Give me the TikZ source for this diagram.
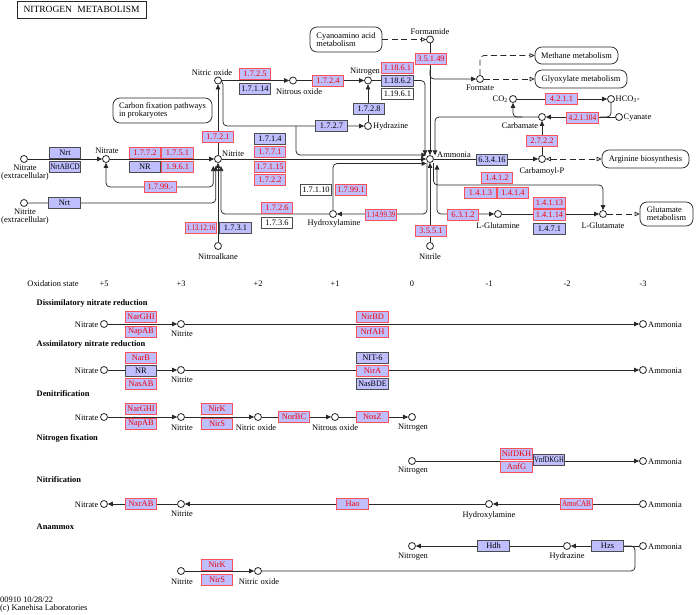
\documentclass[tikz,border=0pt]{standalone}
\usepackage{fontspec}
\setmainfont{Liberation Serif}
\usetikzlibrary{arrows.meta,calc,backgrounds}
\definecolor{kblue}{RGB}{191,191,255}
\definecolor{kred}{RGB}{240,0,0}
\definecolor{kbord}{RGB}{250,80,90}
\definecolor{kline}{RGB}{40,40,40}
\newcommand\kgf{\fontsize{8.4}{8}\selectfont}
\newcommand\sqz[2][0.85]{\scalebox{#1}[1]{#2}}
\begin{document}
\begin{tikzpicture}[x=1pt,y=-1pt,
  ln/.style={draw=kline, line width=0.75pt},
  arr/.style={ln, -{Triangle[length=5pt,width=4.6pt]}},
  barr/.style={ln, {Triangle[length=5pt,width=4.6pt]}-{Triangle[length=5pt,width=4.6pt]}},
  darr/.style={ln, dash pattern=on 6pt off 3.5pt, -{Triangle[open,length=5pt,width=4.6pt]}},
  ddarr/.style={ln, dash pattern=on 6pt off 3.5pt, {Triangle[open,length=5pt,width=4.6pt]}-{Triangle[open,length=5pt,width=4.6pt]}},
  cpd/.style={circle, draw=kline, line width=0.8pt, fill=white, minimum size=7pt, inner sep=0pt},
  er/.style={rectangle, draw=kbord, fill=kblue, text=kred, line width=0.8pt, minimum width=31.5pt, minimum height=11pt, inner sep=0pt, font=\kgf},
  eb/.style={er, draw=black!70, text=black},
  ew/.style={eb, fill=white},
  lbl/.style={font=\kgf, inner sep=0pt, align=center},
  hd/.style={font=\kgf\bfseries, inner sep=0pt, anchor=west},
  mapb/.style={draw=kline, line width=0.75pt, rounded corners=7pt, align=left, font=\kgf, inner sep=0pt},
]
\useasboundingbox (0,0) rectangle (696,615);

% ---------- title and map boxes
\node[draw=kline, line width=0.8pt, minimum width=129pt, minimum height=17pt, inner sep=0pt, font=\fontsize{9.5}{9.5}\selectfont] (title) at (81.5,9.7) {NITROGEN\hspace{3pt} METABOLISM};
\node[mapb, minimum width=99pt, minimum height=25pt] (mCarb) at (162.5,110.5) {Carbon fixation pathways\\in prokaryotes};
\node[mapb, minimum width=72pt, minimum height=25pt] (mCyan) at (346,39.5) {Cyanoamino acid\\metabolism};
\node[mapb, minimum width=83pt, minimum height=17pt] (mMeth) at (576.5,55.5) {Methane metabolism};
\node[mapb, minimum width=92pt, minimum height=18pt] (mGlyox) at (581,79) {Glyoxylate metabolism};
\node[mapb, minimum width=87pt, minimum height=18pt] (mArg) at (645.5,159) {Arginine biosynthesis};
\node[mapb, minimum width=53pt, minimum height=24pt] (mGlu) at (666.5,214) {Glutamate\\metabolism};

% ---------- top compounds
\node[cpd] (cNitEx) at (24,159) {};
\node[lbl] (lNitEx) at (25,172.5) {Nitrate\\(extracellular)};
\node[cpd] (cNitrEx) at (24,203) {};
\node[lbl] (lNitrEx) at (25,216.5) {Nitrite\\(extracellular)};
\node[cpd] (cNitrate) at (106,159) {};
\node[lbl] (lNitrate) at (107,151) {Nitrate};
\node[cpd] (cNitrite) at (218,159) {};
\node[lbl, anchor=west] (lNitrite) at (222,153.5) {Nitrite};
\node[cpd] (cNO) at (218,80.5) {};
\node[lbl] (lNO) at (212,72.5) {Nitric oxide};
\node[cpd] (cN2O) at (293,80.5) {};
\node[lbl] (lN2O) at (299,92) {Nitrous oxide};
\node[cpd] (cN2) at (368,80.5) {};
\node[lbl] (lN2) at (365,72) {Nitrogen};
\node[cpd] (cHz) at (368,126) {};
\node[lbl, anchor=west] (lHz) at (373,126.5) {Hydrazine};
\node[cpd] (cFa) at (430,39.5) {};
\node[lbl] (lFa) at (430,31.5) {Formamide};
\node[cpd] (cAmm) at (430,159) {};
\node[lbl, anchor=west] (lAmm) at (437,155) {Ammonia};
\node[cpd] (cHa) at (333,214) {};
\node[lbl] (lHa) at (334,223.5) {Hydroxylamine};
\node[cpd] (cNitrile) at (430,246) {};
\node[lbl] (lNitrile) at (430,257) {Nitrile};
\node[cpd] (cNa) at (218,246) {};
\node[lbl] (lNa) at (218,257) {Nitroalkane};
\node[cpd] (cFo) at (480,79) {};
\node[lbl] (lFo) at (480,87.5) {Formate};
\node[cpd] (cCO2) at (513,99) {};
\node[lbl, anchor=east] (lCO2) at (508,99) {CO\textsubscript{2}};
\node[cpd] (cHCO) at (611,99) {};
\node[lbl, anchor=west] (lHCO) at (615.5,99) {HCO\textsubscript{3}-};
\node[cpd] (cCb) at (542,117) {};
\node[lbl] (lCb) at (520,125.5) {Carbamate};
\node[cpd] (cCy) at (619,117) {};
\node[lbl, anchor=west] (lCy) at (623.5,117.5) {Cyanate};
\node[cpd] (cCP) at (542,159) {};
\node[lbl] (lCP) at (542,171) {Carbamoyl-P};
\node[cpd] (cGln) at (498,214) {};
\node[lbl] (lGln) at (498,226) {L-Glutamine};
\node[cpd] (cGlu) at (603,214) {};
\node[lbl] (lGlu) at (603,226) {L-Glutamate};

% ---------- top enzymes
\node[eb] (eNrt1) at (65,152.5) {Nrt};
\node[eb] (eNrtABCD) at (65,167) {\sqz[0.85]{NrtABCD}};
\node[er] (e1772) at (145,152.5) {1.7.7.2};
\node[er] (e1751) at (177.5,152.5) {1.7.5.1};
\node[eb] (eNRt) at (145,167) {NR};
\node[er] (e1961) at (177.5,167) {1.9.6.1};
\node[er] (e1799m) at (160.5,187) {1.7.99.-};
\node[eb] (eNrt2) at (64.5,202.5) {Nrt};
\node[er] (e1131216) at (201,227.5) {\sqz[0.8]{1.13.12.16}};
\node[eb] (e1731) at (235.5,227.5) {1.7.3.1};
\node[er] (e1721) at (218,137) {1.7.2.1};
\node[er] (e1725) at (255,73.5) {1.7.2.5};
\node[eb] (e17114) at (255,88.5) {1.7.1.14};
\node[er] (e1724) at (328,80.5) {1.7.2.4};
\node[er] (e11861) at (397.5,67.5) {1.18.6.1};
\node[eb] (e11862) at (397.5,81) {1.18.6.2};
\node[ew] (e11961) at (397.5,93.5) {1.19.6.1};
\node[eb] (e1728) at (369,108.5) {1.7.2.8};
\node[eb] (e1727) at (331.5,126) {1.7.2.7};
\node[er] (e35149) at (431,58.5) {3.5.1.49};
\node[eb] (e1714) at (270,139) {1.7.1.4};
\node[er] (e1771) at (270,151.5) {1.7.7.1};
\node[er] (e17115) at (270,166.5) {1.7.1.15};
\node[er] (e1722) at (270,180) {1.7.2.2};
\node[ew] (e17110) at (316,189.5) {1.7.1.10};
\node[er] (e17991) at (351,189.5) {1.7.99.1};
\node[er] (e1726) at (277,208) {1.7.2.6};
\node[ew] (e1736) at (277,222.5) {1.7.3.6};
\node[er] (e1149939) at (381,214.5) {\sqz[0.8]{1.14.99.39}};
\node[er] (e3551) at (431,230.5) {3.5.5.1};
\node[er] (e6312) at (463,214.5) {6.3.1.2};
\node[er] (e4211) at (561.5,99) {4.2.1.1};
\node[er] (e421104) at (582.5,118) {\sqz[0.88]{4.2.1.104}};
\node[er] (e2722) at (542,141) {2.7.2.2};
\node[eb] (e63416) at (492,159.5) {6.3.4.16};
\node[er] (e1412) at (497,177.5) {1.4.1.2};
\node[er] (e1413) at (480.5,192.5) {1.4.1.3};
\node[er] (e1414) at (513,192.5) {1.4.1.4};
\node[er] (e14113) at (549.5,202.5) {1.4.1.13};
\node[er] (e14114) at (549.5,215) {1.4.1.14};
\node[eb] (e1471) at (549.5,229) {1.4.7.1};

% ---------- lower section: oxidation states and headings
\node[lbl] (ox) at (53,283.5) {Oxidation state};
\foreach \v/\x in {+5/104,+3/181,+2/258,+1/335,0/412,-1/489,-2/567,-3/643}
  \node[lbl] (os\x) at (\x,283.5) {\v};
\node[hd] (hDiss) at (36.5,303.5) {Dissimilatory nitrate reduction};
\node[hd] (hAss) at (36.5,344.5) {Assimilatory nitrate reduction};
\node[hd] (hDen) at (36.5,393.5) {Denitrification};
\node[hd] (hFix) at (36.5,438.5) {Nitrogen fixation};
\node[hd] (hNif) at (36.5,479.5) {Nitrification};
\node[hd] (hAna) at (36.5,526.5) {Anammox};

% row 1
\node[cpd] (r1a) at (104,324) {}; \node[lbl,anchor=east] (r1al) at (98.5,324.5) {Nitrate};
\node[cpd] (r1b) at (181,324) {}; \node[lbl] (r1bl) at (182,334) {Nitrite};
\node[cpd] (r1c) at (643,324) {}; \node[lbl,anchor=west] (r1cl) at (648,324.5) {Ammonia};
\node[er] (r1e1) at (141,316.5) {NarGHI};
\node[er] (r1e2) at (141,331.5) {NapAB};
\node[er] (r1e3) at (372.5,316.5) {NirBD};
\node[er] (r1e4) at (372.5,331.5) {NrfAH};
% row 2
\node[cpd] (r2a) at (104,370) {}; \node[lbl,anchor=east] (r2al) at (98.5,370.5) {Nitrate};
\node[cpd] (r2b) at (181,370) {}; \node[lbl] (r2bl) at (182,380) {Nitrite};
\node[cpd] (r2c) at (643,370) {}; \node[lbl,anchor=west] (r2cl) at (648,370.5) {Ammonia};
\node[er] (r2e1) at (141,357.5) {NarB};
\node[eb] (r2e2) at (141,370.5) {NR};
\node[er] (r2e3) at (141,383.5) {NasAB};
\node[eb] (r2e4) at (372.5,357.5) {NIT-6};
\node[er] (r2e5) at (372.5,370.5) {NirA};
\node[eb] (r2e6) at (372.5,383.5) {\sqz[0.95]{NasBDE}};
% row 3
\node[cpd] (r3a) at (104,417) {}; \node[lbl,anchor=east] (r3al) at (98.5,417.5) {Nitrate};
\node[cpd] (r3b) at (181,417) {}; \node[lbl] (r3bl) at (182,427.5) {Nitrite};
\node[cpd] (r3c) at (258,417) {}; \node[lbl] (r3cl) at (256,427.5) {Nitric oxide};
\node[cpd] (r3d) at (335,417) {}; \node[lbl] (r3dl) at (335,427.5) {Nitrous oxide};
\node[cpd] (r3e) at (412,417) {}; \node[lbl] (r3el) at (413,427.5) {Nitrogen};
\node[er] (r3e1) at (141,408.5) {NarGHI};
\node[er] (r3e2) at (141,423.5) {NapAB};
\node[er] (r3e3) at (217,408.5) {NirK};
\node[er] (r3e4) at (217,423.5) {NirS};
\node[er] (r3e5) at (294,416.5) {NorBC};
\node[er] (r3e6) at (372.5,416.5) {NosZ};
% row 4
\node[cpd] (r4a) at (412,461) {}; \node[lbl] (r4al) at (413,471) {Nitrogen};
\node[cpd] (r4b) at (643,461) {}; \node[lbl,anchor=west] (r4bl) at (648,461.5) {Ammonia};
\node[er] (r4e1) at (516.5,454) {NifDKH};
\node[er] (r4e2) at (516.5,466.5) {AnfG};
\node[eb] (r4e3) at (549,460) {\sqz[0.8]{VnfDKGH}};
% row 5
\node[cpd] (r5a) at (104,504) {}; \node[lbl,anchor=east] (r5al) at (98.5,504.5) {Nitrate};
\node[cpd] (r5b) at (181,504) {}; \node[lbl] (r5bl) at (182,514) {Nitrite};
\node[cpd] (r5c) at (489,504) {}; \node[lbl] (r5cl) at (489,515) {Hydroxylamine};
\node[cpd] (r5d) at (643,504) {}; \node[lbl,anchor=west] (r5dl) at (648,504.5) {Ammonia};
\node[er] (r5e1) at (141,503.5) {NxrAB};
\node[er] (r5e2) at (352.5,503.5) {Hao};
\node[er] (r5e3) at (576.5,503.5) {\sqz[0.85]{AmoCAB}};
% row 6
\node[cpd] (r6a) at (412,546) {}; \node[lbl] (r6al) at (413,556.5) {Nitrogen};
\node[cpd] (r6b) at (567,546) {}; \node[lbl] (r6bl) at (567,556.5) {Hydrazine};
\node[cpd] (r6c) at (643,546) {}; \node[lbl,anchor=west] (r6cl) at (648,546.5) {Ammonia};
\node[eb] (r6e1) at (493.5,546) {Hdh};
\node[eb] (r6e2) at (607.5,546) {Hzs};
% row 7
\node[cpd] (r7a) at (181,571) {}; \node[lbl] (r7al) at (182,581.5) {Nitrite};
\node[cpd] (r7b) at (258,571) {}; \node[lbl] (r7bl) at (259,582) {Nitric oxide};
\node[er] (r7e1) at (217,564.5) {NirK};
\node[er] (r7e2) at (217,579.5) {NirS};

\node[lbl, anchor=west] (foot1) at (0,600) {00910 10/28/22};
\node[lbl, anchor=west] (foot2) at (0,608.5) {(c) Kanehisa Laboratories};

% ---------- connectors
\begin{scope}[on background layer]
\draw[arr] (cNitEx) -- (cNitrate);
\draw[arr] (cNitrate) -- (cNitrite);
\draw[barr, rounded corners=4pt] (213.3,166) -- (213.3,187) -- (106,187) -- (cNitrate);
\draw[arr, rounded corners=4pt] (cNitrEx) -- (215.8,203) -- (215.8,166);
\draw[arr] (cNa) -- (cNitrite);
\draw[arr, rounded corners=4pt] (cHa) -- (221,214) -- (221,166);
\draw[arr] (cNitrite) -- (cNO);
\draw[arr] (cNO) -- (cN2O);
\draw[arr] (cN2O) -- (cN2);
\draw[arr, rounded corners=4pt] (cNO.east) -- (223,80.5) -- (223,126) -- (cHz);
\draw[arr, rounded corners=4pt] (296,126) -- (296,155) -- (426.3,155);
\draw[arr] (cNitrite) -- (cAmm);
\draw[arr, rounded corners=4pt] (cHa) -- (333,163.5) -- (426.5,163.5);
\draw[arr] (cHz) -- (cN2);
\draw[arr, rounded corners=4pt] (cN2.east) -- (425,80.5) -- (425,155.3);
\draw[arr] (cFa) -- (cAmm);
\draw[arr, rounded corners=4pt] (430,70) -- (430,79) -- (cFo);
\draw[arr, rounded corners=4pt] (cCb) -- (435,117) -- (435,155.3);
\draw[arr, rounded corners=4pt] (427,162.5) -- (427,214) -- (cHa);
\draw[arr] (cNitrile) -- (cAmm);
\draw[barr, rounded corners=4pt] (437,164.5) -- (437,214) -- (cGln);
\draw[arr, rounded corners=4pt] (433.5,163) -- (433.5,185) -- (603,185) -- (cGlu);
\draw[arr] (cAmm) -- (cCP);
\draw[arr] (cCP) -- (cCb);
\draw[arr] (cCy) -- (cCb);
\draw[ln, rounded corners=4pt] (cHCO) -- (611,117) -- (600,117);
\draw[arr, rounded corners=4pt] (522,117) -- (513,117) -- (cCO2);
\draw[arr] (cCO2) -- (cHCO);
\draw[arr] (cGln) -- (cGlu);
\draw[darr] (mCyan.east) -- (cFa.west);
\draw[darr, rounded corners=4pt] (cFo.north) -- (480,55.5) -- (mMeth.west);
\draw[darr] (cFo.east) -- (mGlyox.west);
\draw[ddarr] (cCP.east) -- (mArg.west);
\draw[darr] (cGlu.east) -- (mGlu.west);
% lower
\draw[arr] (r1a) -- (r1b); \draw[arr] (r1b) -- (r1c);
\draw[arr] (r2a) -- (r2b); \draw[arr] (r2b) -- (r2c);
\draw[arr] (r3a) -- (r3b); \draw[arr] (r3b) -- (r3c); \draw[arr] (r3c) -- (r3d); \draw[arr] (r3d) -- (r3e);
\draw[arr] (r4a) -- (r4b);
\draw[arr] (r5b) -- (r5a); \draw[arr] (r5c) -- (r5b); \draw[arr] (r5d) -- (r5c);
\draw[arr] (r6c) -- (r6b); \draw[arr] (r6b) -- (r6a);
\draw[arr] (r7a) -- (r7b);
\draw[ln, rounded corners=4pt] (r7b) -- (635,571) -- (635,546) -- (r6e2.east);
\end{scope}
\end{tikzpicture}
\end{document}
